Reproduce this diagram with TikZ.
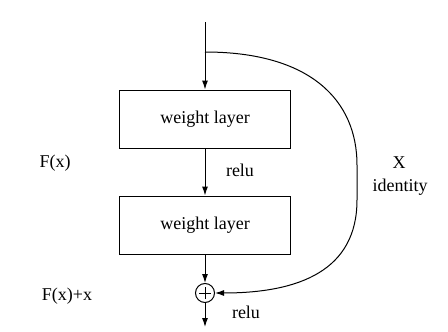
\documentclass[tikz,border=0pt]{standalone}
\usepackage{fontspec}
\setmainfont{Liberation Serif}
\usetikzlibrary{arrows.meta}
\begin{document}
\begin{tikzpicture}[x=1pt,y=-1pt,
  every node/.style={font=\fontsize{18}{21}\selectfont},
  layer/.style={draw,line width=1pt,minimum width=171pt,minimum height=58pt,inner sep=0pt},
  sumnode/.style={draw,line width=1pt,circle,minimum size=19pt,inner sep=0pt,
    path picture={\draw[line width=0.6pt] ([xshift=-6pt]path picture bounding box.center) -- ([xshift=6pt]path picture bounding box.center);
                  \draw[line width=0.6pt] ([yshift=-6pt]path picture bounding box.center) -- ([yshift=6pt]path picture bounding box.center);}},
  lbl/.style={inner sep=0pt},
  arr/.style={line width=1pt,-{Latex[length=9pt,width=6pt]}}]
\useasboundingbox (0,0) rectangle (448,332);
\node[layer] (w1) at (205,119) {weight layer};
\node[layer] (w2) at (205,225) {weight layer};
\node[sumnode] (sum) at (205,293) {};
\coordinate (in) at (205,22);
\coordinate (split) at (205,52);
\coordinate (out) at (205,327);
\coordinate (c1) at (357,165);
\coordinate (c2) at (357,200);
\draw[arr] (in) -- (w1.north);
\draw[arr] (w1.south) -- (w2.north);
\draw[arr] (w2.south) -- (sum.north);
\draw[arr] (sum.south) -- (out);
\draw[arr] (split) .. controls (310,52) and (357,100) .. (c1) -- (c2) .. controls (357,270) and (300,293) .. (sum.east);
\node[lbl] (relu1) at (240,170) {relu};
\node[lbl] (relu2) at (246,312) {relu};
\node[lbl] (X) at (399,163) {X};
\node[lbl] (id) at (400,187) {identity};
\node[lbl] (Fx) at (55,163) {F(x)};
\node[lbl] (Fxx) at (67,296) {F(x)+x};
\end{tikzpicture}
\end{document}
